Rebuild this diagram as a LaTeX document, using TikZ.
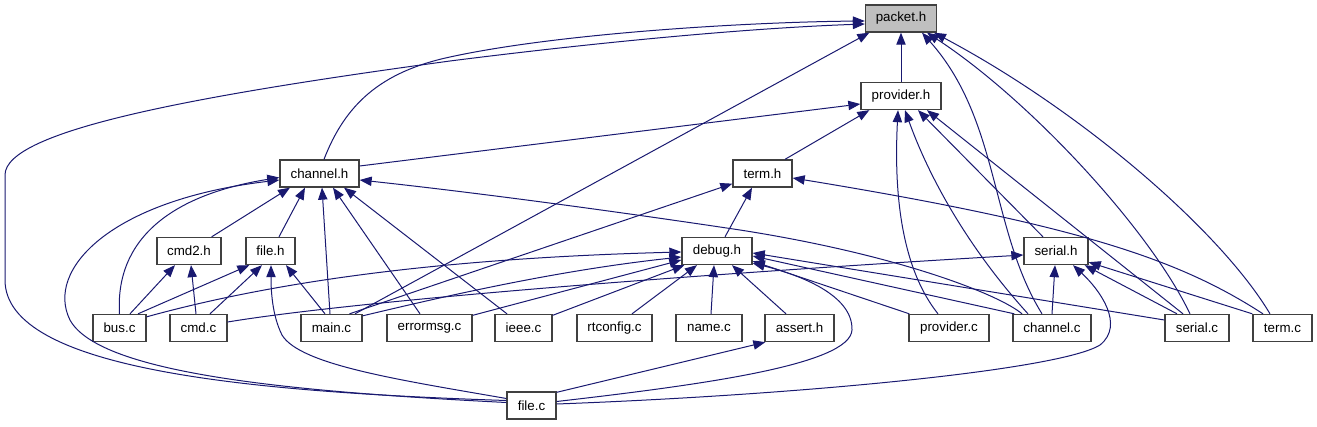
\documentclass[tikz,border=0pt]{standalone}
\usepackage{fontspec}
\setmainfont{Liberation Sans}
\usetikzlibrary{arrows.meta}
\definecolor{edgeblue}{RGB}{25,25,112}
\definecolor{nodeborder}{RGB}{64,64,64}
\definecolor{grayfill}{RGB}{191,191,191}
\begin{document}
\begin{tikzpicture}[x=0.75pt,y=-0.75pt,
  box/.style={draw=nodeborder, line width=1pt, fill=white, minimum height=20.25pt,
    minimum width=#1*0.75pt, inner sep=0pt, font=\fontsize{10}{12}\selectfont},
  edge/.style={draw=edgeblue, line width=0.75pt, -{Triangle[length=9pt,width=7pt]}}]
\useasboundingbox (0,0) rectangle (1317,427);
% nodes
\node[box=71, fill=grayfill] (packet) at (901,18.5) {packet.h};
\node[box=80] (provider) at (901,96) {provider.h};
\node[box=79] (channelh) at (319.5,173.5) {channel.h};
\node[box=59] (termh) at (762.5,173.5) {term.h};
\node[box=64] (cmd2h) at (189,251) {cmd2.h};
\node[box=49] (fileh) at (270.5,251) {file.h};
\node[box=70] (debugh) at (717,251) {debug.h};
\node[box=64] (serialh) at (1056,251) {serial.h};
\node[box=53] (busc) at (119.5,328) {bus.c};
\node[box=57] (cmdc) at (198.5,328) {cmd.c};
\node[box=61] (mainc) at (331.5,328) {main.c};
\node[box=85] (errc) at (429.5,328) {errormsg.c};
\node[box=57] (ieeec) at (523.5,328) {ieee.c};
\node[box=75] (rtc) at (614.5,328) {rtconfig.c};
\node[box=66] (namec) at (709,328) {name.c};
\node[box=69] (asserth) at (799.5,328) {assert.h};
\node[box=80] (provc) at (949,328) {provider.c};
\node[box=78] (chanc) at (1052,328) {channel.c};
\node[box=64] (serc) at (1197,328) {serial.c};
\node[box=59] (termc) at (1282.5,328) {term.c};
\node[box=49] (filec) at (531.5,405.5) {file.c};
% edges into packet.h
\draw[edge] (provider.north) -- (packet.south);
\draw[edge] ([shift={(4.5,0)}]channelh.north) .. controls (345,105) and (380,72) .. (450,57) .. controls (560,33) and (750,22) .. ([shift={(0,2.5)}]packet.west);
\draw[edge] ([shift={(0,-5)}]filec.west) .. controls (250,392) and (5,370) .. (5,280) -- (5,175) .. controls (5,130) and (200,95) .. (450,61) .. controls (600,42) and (750,28) .. ([shift={(0,5.5)}]packet.west);
\draw[edge] ([shift={(23.5,0)}]mainc.north) -- ([shift={(4.5,0)}]packet.south west);
\draw[edge] ([shift={(-10,0)}]chanc.north) .. controls (990,230) and (1000,120) .. ([shift={(21,0)}]packet.south);
\draw[edge] ([shift={(-7,0)}]serc.north) .. controls (1150,230) and (1030,100) .. ([shift={(26,0)}]packet.south);
\draw[edge] ([shift={(-12.5,0)}]termc.north) .. controls (1220,230) and (1080,110) .. ([shift={(33,0)}]packet.south);
% edges into provider.h
\draw[edge] ([shift={(0,-7.5)}]channelh.east) -- ([shift={(0,8)}]provider.west);
\draw[edge] ([shift={(22.5,0)}]termh.north) -- ([shift={(9,0)}]provider.south west);
\draw[edge] ([shift={(-11,0)}]provc.north) .. controls (895,260) and (895,170) .. ([shift={(-3,0)}]provider.south);
\draw[edge] ([shift={(-24,0)}]chanc.north) .. controls (970,250) and (930,180) .. ([shift={(4,0)}]provider.south);
\draw[edge] ([shift={(-13,0)}]serialh.north) -- ([shift={(17,0)}]provider.south);
\draw[edge] ([shift={(-14,0)}]serc.north) -- ([shift={(26,0)}]provider.south);
% edges into channel.h
\draw[edge] ([shift={(-10,0)}]cmd2h.north east) -- ([shift={(-29.5,0)}]channelh.south);
\draw[edge] ([shift={(8.5,0)}]fileh.north) -- ([shift={(-14.5,0)}]channelh.south);
\draw[edge] ([shift={(-1.5,0)}]mainc.north) -- ([shift={(2.5,0)}]channelh.south);
\draw[edge] ([shift={(-9.5,0)}]errc.north) -- ([shift={(13.5,0)}]channelh.south);
\draw[edge] ([shift={(-16.5,0)}]ieeec.north) -- ([shift={(24.5,0)}]channelh.south);
\draw[edge] ([shift={(-30,0)}]chanc.north) .. controls (1000,295) and (900,255) .. (740,230) .. controls (620,212) and (480,193) .. ([shift={(0,6.5)}]channelh.east);
\draw[edge] (busc.north) .. controls (115,240) and (170,195) .. ([shift={(0,4)}]channelh.west);
\draw[edge] ([shift={(0,-3)}]filec.west) .. controls (300,392) and (100,375) .. (70,320) .. controls (45,270) and (110,200) .. ([shift={(0,6.5)}]channelh.west);
% edges into term.h
\draw[edge] ([shift={(18,0)}]mainc.north) -- ([shift={(0,-4)}]termh.south west);
\draw[edge] ([shift={(8,0)}]debugh.north) -- ([shift={(-10.5,0)}]termh.south);
\draw[edge] ([shift={(-19.5,0)}]termc.north) .. controls (1180,260) and (1080,225) .. ([shift={(0,4.5)}]termh.east);
% edges into cmd2.h and file.h
\draw[edge] ([shift={(10.5,0)}]busc.north) -- ([shift={(-14,0)}]cmd2h.south);
\draw[edge] ([shift={(-2.5,0)}]cmdc.north) -- ([shift={(2,0)}]cmd2h.south);
\draw[edge] ([shift={(18.5,0)}]busc.north) -- ([shift={(4,0)}]fileh.south west);
\draw[edge] ([shift={(11.5,0)}]cmdc.north) -- ([shift={(-8.5,0)}]fileh.south);
\draw[edge] ([shift={(-6.5,0)}]mainc.north) -- ([shift={(15.5,0)}]fileh.south);
\draw[edge] ([shift={(0,-7)}]filec.west) .. controls (400,380) and (300,365) .. (282,335) .. controls (272,315) and (271,290) .. ([shift={(0.5,0)}]fileh.south);
% edges into debug.h
\draw[edge] ([shift={(0,3)}]busc.north east) .. controls (280,280) and (450,258) .. ([shift={(0,1)}]debugh.west);
\draw[edge] ([shift={(0,2)}]mainc.north east) .. controls (450,295) and (560,270) .. ([shift={(0,6)}]debugh.west);
\draw[edge] ([shift={(0,1.5)}]errc.north east) -- ([shift={(0,9)}]debugh.west);
\draw[edge] ([shift={(0,1.5)}]ieeec.north east) -- ([shift={(3,0)}]debugh.south west);
\draw[edge] ([shift={(17.5,0)}]rtc.north) -- ([shift={(-20,0)}]debugh.south);
\draw[edge] ([shift={(2,0)}]namec.north) -- ([shift={(-3,0)}]debugh.south);
\draw[edge] ([shift={(-13.5,0)}]asserth.north) -- ([shift={(15,0)}]debugh.south);
\draw[edge] ([shift={(0,-4)}]filec.east) .. controls (700,385) and (850,365) .. (852,330) .. controls (853,295) and (800,275) .. ([shift={(0,-2)}]debugh.south east);
\draw[edge] ([shift={(1,0)}]provc.north west) -- ([shift={(0,-4)}]debugh.south east);
\draw[edge] ([shift={(2,0)}]chanc.north west) -- ([shift={(0,5)}]debugh.east);
\draw[edge] ([shift={(0,-8)}]serc.west) -- ([shift={(0,2)}]debugh.east);
% edge into assert.h
\draw[edge] ([shift={(0,1)}]filec.north east) -- ([shift={(1,0)}]asserth.south west);
% edges into serial.h
\draw[edge] ([shift={(0,-6)}]cmdc.east) .. controls (330,305) and (600,280) .. ([shift={(0,4)}]serialh.west);
\draw[edge] (chanc.north) -- ([shift={(-1,0)}]serialh.south);
\draw[edge] ([shift={(0,-1.5)}]filec.east) .. controls (800,395) and (1060,370) .. (1100,345) .. controls (1125,325) and (1100,290) .. ([shift={(17,0)}]serialh.south);
\draw[edge] ([shift={(-20,0)}]serc.north) -- ([shift={(-4,0)}]serialh.south east);
\draw[edge] (termc.north west) -- ([shift={(0,-3)}]serialh.south east);
\end{tikzpicture}
\end{document}
